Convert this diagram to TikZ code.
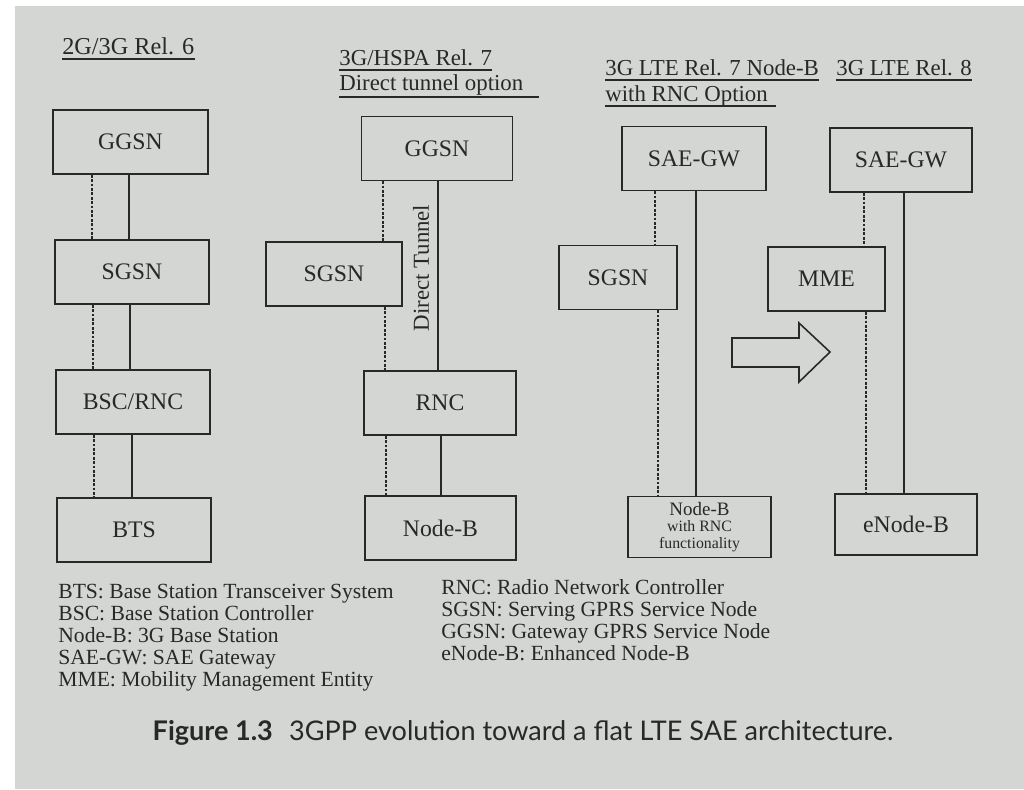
\documentclass[tikz,border=0pt]{standalone}
\usepackage{fontspec}
\setmainfont{Liberation Serif}
\newfontfamily\capfont{Lato}
\usetikzlibrary{positioning,calc}

\definecolor{ink}{RGB}{40,40,40}
\definecolor{paper}{RGB}{211,214,211}

\begin{document}
\begin{tikzpicture}[x=0.02cm, y=-0.02cm,
  box/.style={draw=ink, line width=0.9pt, minimum height=1.28cm, inner sep=0pt, text=ink, font=\fontsize{13.5}{15}\selectfont},
  head/.style={anchor=base west, inner sep=0pt, text=ink, font=\fontsize{13}{15}\selectfont},
  cp/.style={draw=ink, line width=0.7pt, dash pattern=on 1.6pt off 0.9pt},
  up/.style={draw=ink, line width=0.8pt},
  uline/.style={draw=ink, line width=0.9pt},
  key/.style={anchor=north west, inner sep=0pt, align=left, text=ink, font=\fontsize{12.3}{12.5}\selectfont},
]
\useasboundingbox (0,0) rectangle (1024,789);
\fill[white] (0,0) rectangle (1024,789);
\fill[paper] (15,6) rectangle (1024,789);

% Headings
\node[head, font=\fontsize{13.8}{15}\selectfont] (h1) at (62,54) {2G/3G Rel. 6};
\node[head] (h2a) at (339,65) {3G/HSPA Rel. 7};
\node[head] (h2b) at (339,90) {Direct tunnel option};
\node[head] (h3a) at (605,75) {3G LTE Rel. 7 Node-B};
\node[head] (h3b) at (605,101) {with RNC Option};
\node[head] (h4) at (836,75) {3G LTE Rel. 8};
\foreach \h in {h1,h2a,h3a,h4}
  \draw[uline] ([yshift=-3pt]\h.base west) -- ([yshift=-3pt]\h.base east);
\draw[uline] ([yshift=-4pt]h2b.base west) -- ([yshift=-4pt,xshift=3mm]h2b.base east);
\draw[uline] ([yshift=-3pt]h3b.base west) -- ([yshift=-3pt,xshift=1.5mm]h3b.base east);

% Rel. 6
\node[box, minimum width=3.1cm] (g1) at (130.5,142) {GGSN};
\node[box, minimum width=3.08cm] (s1) at (132,272) {SGSN};
\node[box, minimum width=3.08cm] (b1) at (133,402) {BSC/RNC};
\node[box, minimum width=3.08cm] (t1) at (134,530) {BTS};
\draw[cp] (g1.south -| 92,0) -- (s1.north -| 92,0);
\draw[up] (g1.south -| 129,0) -- (s1.north -| 129,0);
\draw[cp] (s1.south -| 93,0) -- (b1.north -| 93,0);
\draw[up] (s1.south -| 130,0) -- (b1.north -| 130,0);
\draw[cp] (b1.south -| 94,0) -- (t1.north -| 94,0);
\draw[up] (b1.south -| 132,0) -- (t1.north -| 132,0);

% Rel. 7 direct tunnel
\node[box, minimum width=3.02cm] (g2) at (437,148.5) {GGSN};
\node[box, minimum width=2.72cm] (s2) at (334,274) {SGSN};
\node[box, minimum width=3.04cm] (r2) at (440,403) {RNC};
\node[box, minimum width=3.02cm] (n2) at (440.5,528) {Node-B};
\draw[cp] (g2.south -| 383,0) -- (s2.north -| 383,0);
\draw[cp] (s2.south -| 385,0) -- (r2.north -| 385,0);
\draw[up] (g2.south -| 438,0) -- (r2.north -| 438,0);
\draw[cp] (r2.south -| 386,0) -- (n2.north -| 386,0);
\draw[up] (r2.south -| 441,0) -- (n2.north -| 441,0);
\node[rotate=90, inner sep=0pt, text=ink, font=\fontsize{13}{15}\selectfont] (dt) at (421,268) {Direct Tunnel};

% Rel. 7 Node-B with RNC
\node[box, minimum width=2.88cm] (sae3) at (694,158.5) {SAE-GW};
\node[box, minimum width=2.36cm] (s3) at (618,277.5) {SGSN};
\node[box, minimum width=2.86cm, minimum height=1.22cm, align=center, font=\fontsize{9}{9.6}\selectfont] (n3) at (699.5,527)
  {{\fontsize{10.8}{9.6}\selectfont Node-B}\\with RNC\\functionality};
\draw[cp] (sae3.south -| 655,0) -- (s3.north -| 655,0);
\draw[cp] (s3.south -| 658,0) -- (n3.north -| 658,0);
\draw[up] (sae3.south -| 696,0) -- (n3.north -| 696,0);

% Rel. 8
\node[box, minimum width=2.84cm] (sae4) at (901,160) {SAE-GW};
\node[box, minimum width=2.34cm] (m4) at (826.5,279) {MME};
\node[box, minimum width=2.84cm, minimum height=1.22cm] (e4) at (906,524.5) {eNode-B};
\draw[cp] (sae4.south -| 864,0) -- (m4.north -| 864,0);
\draw[cp] (m4.south -| 866,0) -- (e4.north -| 866,0);
\draw[up] (sae4.south -| 904,0) -- (e4.north -| 904,0);

% evolution arrow
\draw[ink, line width=0.9pt, line join=miter]
  (732,338) -- (799,338) -- (799,323) -- (830,352) -- (799,382) -- (799,367) -- (732,367) -- cycle;

% Abbreviations
\node[key] (keyL) at (58,584) {BTS: Base Station Transceiver System\\
  BSC: Base Station Controller\\
  Node-B: 3G Base Station\\
  SAE-GW: SAE Gateway\\
  MME: Mobility Management Entity};
\node[key] (keyR) at (441,579) {RNC: Radio Network Controller\\
  SGSN: Serving GPRS Service Node\\
  GGSN: Gateway GPRS Service Node\\
  eNode-B: Enhanced Node-B};

% Caption
\node[text=ink, inner sep=0pt, font=\capfont\fontsize{15.4}{18}\selectfont] (cap) at (523,733)
  {\textbf{Figure 1.3}\hspace{0.6em}3GPP evolution toward a flat LTE SAE architecture.};
\end{tikzpicture}
\end{document}
